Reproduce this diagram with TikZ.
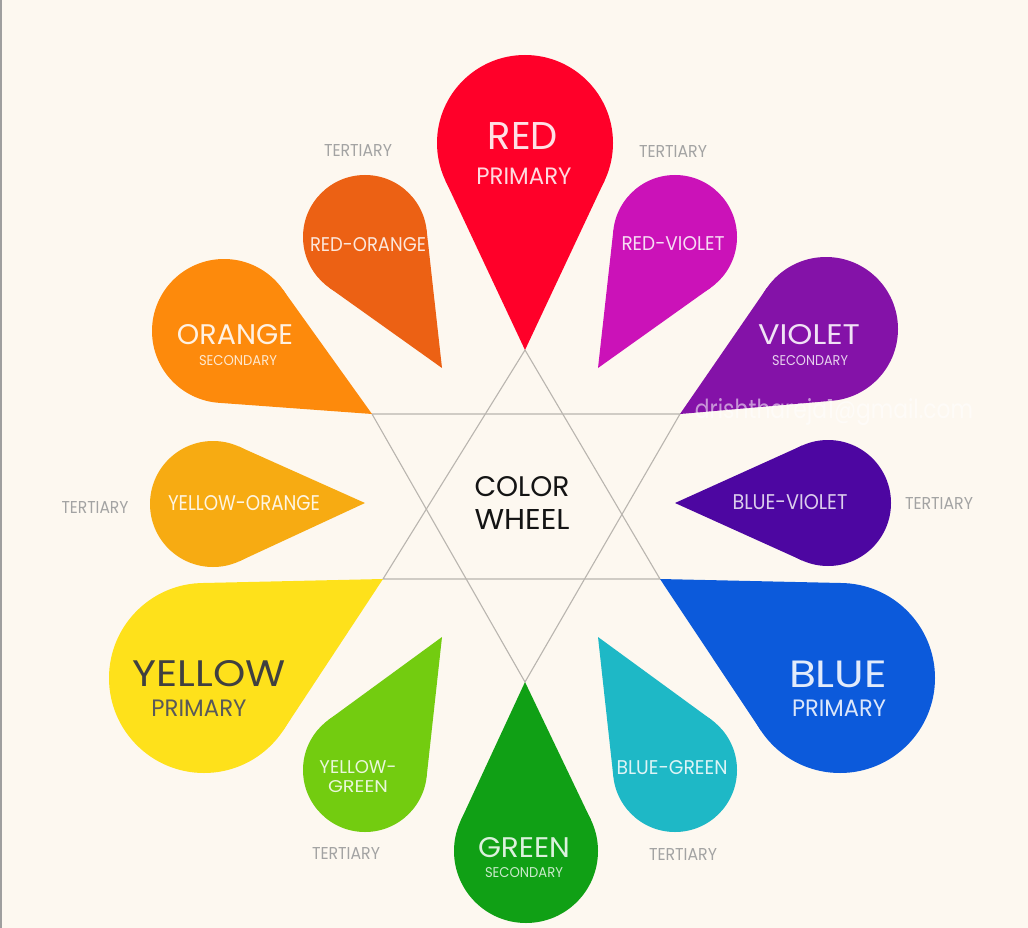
\documentclass[tikz,border=0pt]{standalone}
\usepackage{fontspec}
\setmainfont{Poppins}
\usepackage{graphicx}
\definecolor{bg}{HTML}{FDF8F0}
\definecolor{cRed}{HTML}{FF0029}
\definecolor{cRedOrange}{HTML}{EC6114}
\definecolor{cOrange}{HTML}{FD8A0C}
\definecolor{cYellowOrange}{HTML}{F7AB12}
\definecolor{cYellow}{HTML}{FEE11B}
\definecolor{cYellowGreen}{HTML}{73CC10}
\definecolor{cGreen}{HTML}{10A015}
\definecolor{cBlueGreen}{HTML}{1EB8C6}
\definecolor{cBlue}{HTML}{0C5ADB}
\definecolor{cBlueViolet}{HTML}{4D06A1}
\definecolor{cViolet}{HTML}{8412A8}
\definecolor{cRedViolet}{HTML}{CB12B8}
\definecolor{hexgray}{HTML}{B9B5AF}
\definecolor{tertgray}{HTML}{A3A3A3}
\newcommand\mypetal[7]{%
 \pgfmathsetmacro\pdx{#3-#5}%
 \pgfmathsetmacro\pdy{#4-#6}%
 \pgfmathsetmacro\pdd{veclen(\pdx,\pdy)}%
 \pgfmathsetmacro\ppsi{atan2(\pdy,\pdx)}%
 \pgfmathsetmacro\pbet{acos(#7/\pdd)}%
 \pgfmathsetmacro\pax{#5+#7*cos(\ppsi+\pbet)}%
 \pgfmathsetmacro\pay{#6+#7*sin(\ppsi+\pbet)}%
 \pgfmathsetmacro\pbx{#5+#7*cos(\ppsi-\pbet)}%
 \pgfmathsetmacro\pby{#6+#7*sin(\ppsi-\pbet)}%
 \fill[#2] (#1tip) -- (\pax,\pay) -- (\pbx,\pby) -- cycle;
 \fill[#2] (#5,#6) circle[radius=#7pt];
}
\newcommand\fitlbl[3]{\resizebox{#1pt}{#2pt}{#3}}
\begin{document}
\begin{tikzpicture}[x=1pt,y=-1pt,
  hexline/.style={draw=hexgray,line width=1.1pt},
  lbl/.style={inner sep=0pt,anchor=center},
  tert/.style={lbl,text=tertgray}]
\useasboundingbox (0,0) rectangle (1028,928);
\fill[bg] (0,0) rectangle (1028,928);
\draw[gray!75,line width=2pt] (1,0) -- (1,928);
% petal tips
\coordinate (redtip) at (525,350);
\coordinate (greentip) at (525,682);
\coordinate (orangetip) at (372,414);
\coordinate (violettip) at (680,414);
\coordinate (yellowtip) at (383,579);
\coordinate (bluetip) at (660,579);
\coordinate (redorangetip) at (442,368);
\coordinate (redviolettip) at (598,368);
\coordinate (yelloworangetip) at (365,503);
\coordinate (blueviolettip) at (675,503);
\coordinate (yellowgreentip) at (442,637);
\coordinate (bluegreentip) at (598,637);
% hexagram
\draw[hexline] (redtip) -- (yellowtip) -- (bluetip) -- cycle;
\draw[hexline] (greentip) -- (orangetip) -- (violettip) -- cycle;
% petals
\mypetal{red}{cRed}{525}{350}{525}{143}{88}
\mypetal{green}{cGreen}{525}{682}{526}{851}{72}
\mypetal{orange}{cOrange}{372}{414}{224}{331}{72}
\mypetal{violet}{cViolet}{680}{414}{826}{329}{72}
\mypetal{yellow}{cYellow}{383}{579}{204}{678}{95}
\mypetal{blue}{cBlue}{660}{579}{840}{678}{95}
\mypetal{redorange}{cRedOrange}{442}{368}{365}{237}{62}
\mypetal{redviolet}{cRedViolet}{598}{368}{675}{237}{62}
\mypetal{yelloworange}{cYellowOrange}{365}{503}{213}{504}{63}
\mypetal{blueviolet}{cBlueViolet}{675}{503}{828}{503}{63}
\mypetal{yellowgreen}{cYellowGreen}{442}{637}{365}{770}{62}
\mypetal{bluegreen}{cBlueGreen}{598}{637}{675}{770}{62}
% labels
\node[lbl,text=white!88!cRed] (lRed) at (523,136) {\fitlbl{70}{27}{RED}};
\node[lbl,text=white!85!cRed] (lRedP) at (524,176) {\fitlbl{95}{16.5}{PRIMARY}};
\node[tert] (t1) at (358,151) {\fitlbl{68}{12}{TERTIARY}};
\node[tert] (t2) at (673,152) {\fitlbl{68}{12}{TERTIARY}};
\node[lbl,text=white!85!cRedOrange] (lRO) at (368,245) {\fitlbl{116}{14}{RED-ORANGE}};
\node[lbl,text=white!85!cRedViolet] (lRV) at (673,244) {\fitlbl{103}{14}{RED-VIOLET}};
\node[lbl,text=white!88!cOrange] (lO) at (235,335) {\fitlbl{116}{20}{ORANGE}};
\node[lbl,text=white!80!cOrange] (lOS) at (238,361) {\fitlbl{78}{10}{SECONDARY}};
\node[lbl,text=white!88!cViolet] (lV) at (809,335) {\fitlbl{102}{20}{VIOLET}};
\node[lbl,text=white!80!cViolet] (lVS) at (810,361) {\fitlbl{76}{10}{SECONDARY}};
\node[tert] (t3) at (95,507) {\fitlbl{67}{12}{TERTIARY}};
\node[lbl,text=white!88!cYellowOrange] (lYO) at (244,503) {\fitlbl{152}{15}{YELLOW-ORANGE}};
\node[lbl,text=black!92] (lC1) at (522,487) {\fitlbl{95}{20}{COLOR}};
\node[lbl,text=black!92] (lC2) at (522,520) {\fitlbl{95}{20}{WHEEL}};
\node[lbl,text=white!80!cBlueViolet] (lBV) at (790,502) {\fitlbl{115}{15}{BLUE-VIOLET}};
\node[tert] (t4) at (939,503) {\fitlbl{68}{12}{TERTIARY}};
\node[lbl,text=black!75] (lY) at (209,674) {\fitlbl{153}{26}{YELLOW}};
\node[lbl,text=black!65] (lYP) at (199,708) {\fitlbl{95}{16.5}{PRIMARY}};
\node[lbl,text=white!88!cBlue] (lB) at (838,674.5) {\fitlbl{98}{26.5}{BLUE}};
\node[lbl,text=white!85!cBlue] (lBP) at (839,708) {\fitlbl{94}{16.5}{PRIMARY}};
\node[lbl,text=white!85!cYellowGreen] (lYG1) at (358,767) {\fitlbl{77}{13}{YELLOW-}};
\node[lbl,text=white!85!cYellowGreen] (lYG2) at (358,787) {\fitlbl{60}{12}{GREEN}};
\node[lbl,text=white!85!cBlueGreen] (lBG) at (672,768) {\fitlbl{111}{14}{BLUE-GREEN}};
\node[tert] (t5) at (346,853) {\fitlbl{68}{12}{TERTIARY}};
\node[tert] (t6) at (683,854) {\fitlbl{68}{12}{TERTIARY}};
\node[lbl,text=white!85!cGreen] (lG) at (524,848) {\fitlbl{92}{20}{GREEN}};
\node[lbl,text=white!78!cGreen] (lGS) at (524,873) {\fitlbl{78}{10}{SECONDARY}};
\node[lbl,text=white,opacity=0.55] (wm) at (834,412) {\fitlbl{278}{20}{drishthareja1@gmail.com}};
\end{tikzpicture}
\end{document}
